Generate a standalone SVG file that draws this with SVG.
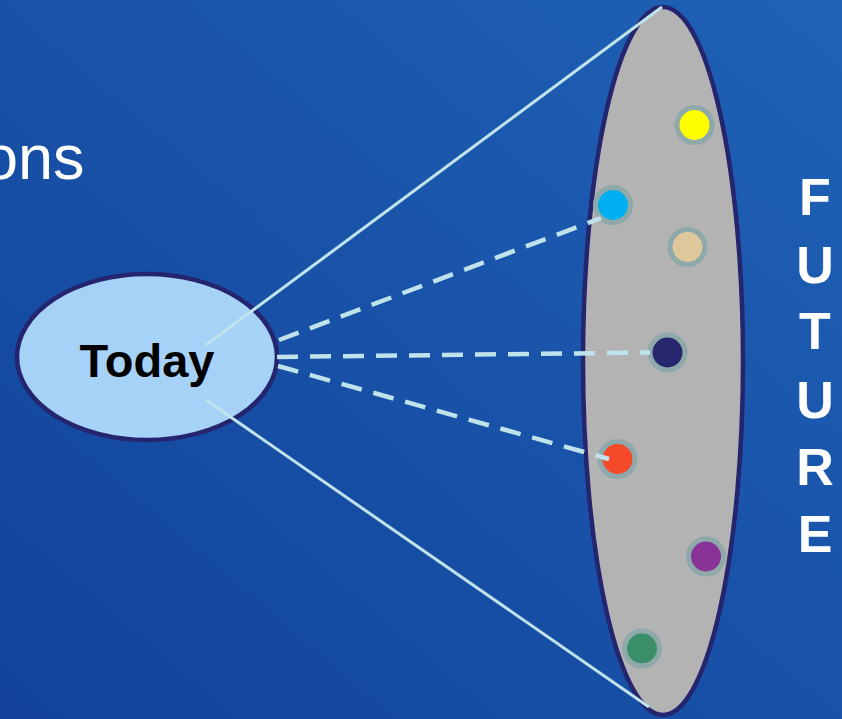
<svg xmlns="http://www.w3.org/2000/svg" width="842" height="719" viewBox="0 0 842 719">
<defs>
<linearGradient id="bg" x1="1" y1="0" x2="0" y2="1">
<stop offset="0" stop-color="#1f62b6"/>
<stop offset="1" stop-color="#12429a"/>
</linearGradient>
<style>
.lbl{font-family:"Liberation Sans",Arial,sans-serif;}
.fut{font-family:"Liberation Sans",Arial,sans-serif;font-weight:bold;font-size:52px;fill:#ffffff;text-anchor:middle;}
.dot{stroke:#8fa9ab;stroke-width:5;}
.solid{stroke:#bfe3ea;stroke-width:3;fill:none;}
.dash{stroke:#bfe3ea;stroke-width:4.5;fill:none;stroke-dasharray:21 12;}
</style>
</defs>
<rect width="842" height="719" fill="url(#bg)"/>
<text class="lbl" x="-17" y="179" font-size="63" fill="#ffffff">ons</text>
<g id="future">
<ellipse cx="663" cy="361" rx="80" ry="354" fill="#b3b3b3" stroke="#25246e" stroke-width="4.5"/>
</g>
<g id="today">
<ellipse cx="147" cy="357" rx="130" ry="83" fill="#a6d2f8" stroke="#25246e" stroke-width="4.5"/>
<text class="lbl" x="147" y="377" font-size="47" font-weight="bold" fill="#000000" text-anchor="middle">Today</text>
</g>
<g id="dot-yellow"><circle class="dot" cx="694.5" cy="125" r="17.5" fill="#ffff00"/></g>
<g id="dot-cyan"><circle class="dot" cx="613" cy="205" r="17.5" fill="#00b0f0"/></g>
<g id="dot-tan"><circle class="dot" cx="687.5" cy="247" r="17.5" fill="#dfc79c"/></g>
<g id="dot-navy"><circle class="dot" cx="667.5" cy="352.5" r="17.5" fill="#27276f"/></g>
<g id="dot-red"><circle class="dot" cx="617.5" cy="459" r="17.5" fill="#f44a2a"/></g>
<g id="dot-purple"><circle class="dot" cx="706" cy="556.5" r="17.5" fill="#893398"/></g>
<g id="dot-green"><circle class="dot" cx="642" cy="648.5" r="17.5" fill="#3a8e6a"/></g>
<g id="connectors">
<line class="solid" x1="206" y1="345" x2="662" y2="7"/>
<line class="solid" x1="206" y1="400" x2="649" y2="707"/>
<line class="dash" x1="279" y1="340" x2="601" y2="218"/>
<line class="dash" x1="277" y1="357" x2="650" y2="352.5"/>
<line class="dash" x1="278" y1="366" x2="609" y2="459"/>
</g>
<g id="future-label">
<text class="fut" x="815" y="215">F</text>
<text class="fut" x="815" y="283">U</text>
<text class="fut" x="815" y="349">T</text>
<text class="fut" x="815" y="418">U</text>
<text class="fut" x="815" y="485">R</text>
<text class="fut" x="815" y="552">E</text>
</g>
</svg>
